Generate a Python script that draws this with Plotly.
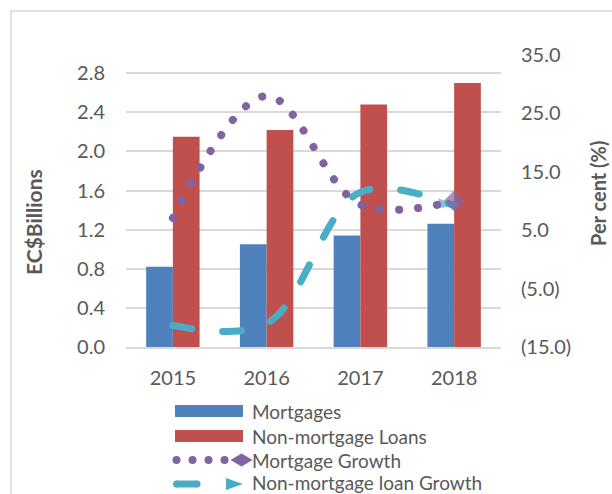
import plotly.graph_objects as go

# ---- data ----
years = ["2015", "2016", "2017", "2018"]
mortgages = [0.82, 1.05, 1.14, 1.26]            # EC$ billions
non_mortgage_loans = [2.15, 2.22, 2.48, 2.70]   # EC$ billions
mortgage_growth = [7.1, 28.0, 9.4, 10.0]        # per cent
non_mortgage_growth = [-11.3, -11.0, 11.5, 9.2] # per cent

left_ticks = [0.0, 0.4, 0.8, 1.2, 1.6, 2.0, 2.4, 2.8]
right_ticks = [-15, -5, 5, 15, 25, 35]
right_ticktext = ["(15.0)", "(5.0)", "5.0", "15.0", "25.0", "35.0"]

series_names = ["Mortgages", "Non-mortgage Loans", "Mortgage Growth", "Non-mortgage loan Growth"]

# ---- style ----
W, H = 612, 494
L, R, T, B = 126, 111, 55, 147
PW, PH = W - L - R, H - T - B
BLUE, RED, PURPLE, CYAN = "#4F81BD", "#C0504D", "#8064A2", "#4BACC6"
GRID = "#D9D9D9"
TXT = "#595959"
FONT = "Lato"


def px(x):
    return (x - L) / PW


def py(y):
    return (H - B - y) / PH


fig = go.Figure()
fig.add_trace(go.Bar(x=years, y=mortgages, name=series_names[0], marker=dict(color=BLUE, line=dict(width=0))))
fig.add_trace(go.Bar(x=years, y=non_mortgage_loans, name=series_names[1], marker=dict(color=RED, line=dict(width=0))))
fig.add_trace(go.Scatter(
    x=years, y=non_mortgage_growth, name=series_names[3], yaxis="y2", mode="lines+markers",
    line=dict(color=CYAN, width=7, shape="spline", smoothing=1, dash="19px,31px"),
    marker=dict(symbol="arrow", angleref="previous", size=[0, 0, 0, 17], color=CYAN, line=dict(width=0)),
))
fig.add_trace(go.Scatter(
    x=years, y=mortgage_growth, name=series_names[2], yaxis="y2", mode="lines+markers",
    line=dict(color=PURPLE, width=8, shape="spline", smoothing=1, dash="0.1px,19px"),
    marker=dict(symbol="diamond", size=[0, 0, 0, 16], color=PURPLE, line=dict(width=0)),
))

shapes = []
# chart border (top/left visible)
shapes.append(dict(type="rect", xref="paper", yref="paper", x0=px(11), x1=px(700), y0=py(11), y1=py(600),
                   line=dict(color=GRID, width=1.5), fillcolor="rgba(0,0,0,0)", layer="below"))
# legend swatches
shapes.append(dict(type="rect", xref="paper", yref="paper", x0=px(175), x1=px(243), y0=py(405), y1=py(417),
                   line=dict(width=0), fillcolor=BLUE))
shapes.append(dict(type="rect", xref="paper", yref="paper", x0=px(175), x1=px(243), y0=py(430), y1=py(442),
                   line=dict(width=0), fillcolor=RED))
for cx in [176.5, 192.5, 208.5, 224.5]:
    shapes.append(dict(type="circle", xref="paper", yref="paper", x0=px(cx - 4), x1=px(cx + 4),
                       y0=py(460 - 4), y1=py(460 + 4), line=dict(width=0), fillcolor=PURPLE))
shapes.append(dict(type="path", xref="paper", yref="paper",
                   path=f"M {px(230.5)},{py(460)} L {px(241.5)},{py(453.5)} L {px(252.5)},{py(460)} L {px(241.5)},{py(466.5)} Z",
                   line=dict(width=0), fillcolor=PURPLE))
shapes.append(dict(type="line", xref="paper", yref="paper", x0=px(176.5), x1=px(197), y0=py(484), y1=py(484),
                   line=dict(color=CYAN, width=7)))
for cx in [176.5, 197]:
    shapes.append(dict(type="circle", xref="paper", yref="paper", x0=px(cx - 3.5), x1=px(cx + 3.5),
                       y0=py(484 - 3.5), y1=py(484 + 3.5), line=dict(width=0), fillcolor=CYAN))
shapes.append(dict(type="path", xref="paper", yref="paper",
                   path=f"M {px(226)},{py(478)} L {px(243)},{py(484)} L {px(226)},{py(490)} Z",
                   line=dict(width=0), fillcolor=CYAN))

annotations = []
for name, yc in zip(series_names, [411, 436, 460, 482]):
    annotations.append(dict(text=name, xref="paper", yref="paper", x=px(250), y=py(yc), xanchor="left",
                            yanchor="middle", showarrow=False, font=dict(family=FONT, size=19, color=TXT)))
annotations.append(dict(text="<b>EC$Billions</b>", xref="paper", yref="paper", x=px(33), y=py(222),
                        xanchor="center", yanchor="middle", textangle=-90, showarrow=False,
                        font=dict(family=FONT, size=21, color=TXT)))
annotations.append(dict(text="<b>Per cent (%)</b>", xref="paper", yref="paper", x=px(598), y=py(194),
                        xanchor="center", yanchor="middle", textangle=-90, showarrow=False,
                        font=dict(family=FONT, size=20, color=TXT)))

fig.update_layout(
    width=W, height=H,
    margin=dict(l=L, r=R, t=T, b=B, pad=0),
    paper_bgcolor="white", plot_bgcolor="white",
    barmode="group", bargap=0.43, bargroupgap=0,
    showlegend=False,
    font=dict(family=FONT, size=20, color=TXT),
    xaxis=dict(type="category", showgrid=False, showline=True, linecolor=GRID, linewidth=1.5,
               ticks="", ticklabelstandoff=12, automargin=False, tickfont=dict(size=20, color=TXT)),
    yaxis=dict(range=[0, 2.987], tickvals=left_ticks, tickformat=".1f", showgrid=True, gridcolor=GRID,
               gridwidth=1.5, zeroline=False, showline=False, ticks="", ticklabelstandoff=20,
               automargin=False, tickfont=dict(size=20, color=TXT)),
    yaxis2=dict(range=[-15, 35], tickvals=right_ticks, ticktext=right_ticktext, overlaying="y", side="right",
                showgrid=False, zeroline=False, showline=False, ticks="", ticklabelstandoff=19,
                automargin=False, tickfont=dict(size=20, color=TXT)),
    shapes=shapes,
    annotations=annotations,
)

post = ("var s=document.createElement('style');"
        "s.innerHTML='html,body{margin:0;padding:0;overflow:hidden;} .scatterlayer .js-line{stroke-linecap:round !important;}';"
        "document.head.appendChild(s);")
fig.write_html("out.html", post_script=post, config={"displayModeBar": False})
